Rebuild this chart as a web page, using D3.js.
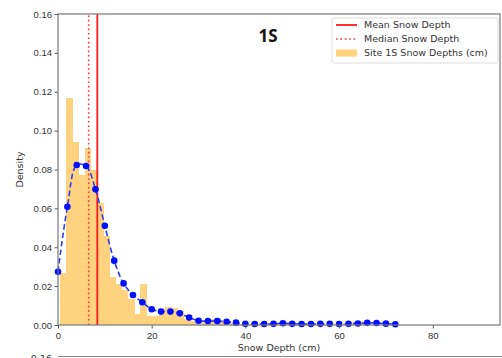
<!DOCTYPE html>
<html>
<head>
<meta charset="utf-8">
<script src="https://cdn.jsdelivr.net/npm/d3@7"></script>
<style>
  html, body { margin: 0; padding: 0; background: #fff; }
  svg { display: block; font-family: "DejaVu Sans", sans-serif; }
</style>
</head>
<body>
<div id="chart"></div>
<script>
// histogram bin edges (cm) and densities
const binEdges = [0.43, 1.75, 3.07, 4.39, 5.71, 7.03, 8.35, 9.67, 10.99, 12.31, 13.63,
  14.95, 16.27, 17.59, 18.91, 20.23, 21.55, 22.87, 24.19, 25.51, 26.83,
  28.15, 29.47, 30.79, 32.11, 33.43, 34.75, 36.07, 37.39, 38.71, 40.03,
  41.35, 42.67, 43.99, 45.31, 46.63, 47.95, 49.27, 50.59, 51.91, 53.23,
  54.55, 55.87, 57.19, 58.51, 59.83, 61.15, 62.47, 63.79, 65.11, 66.43];
const binDensity = [0.0266, 0.117, 0.094, 0.077, 0.091, 0.080, 0.063, 0.046, 0.0245, 0.021,
  0.018, 0.0135, 0.0055, 0.021, 0.0045, 0.0045, 0.008, 0.0092, 0.0085, 0.007,
  0.003, 0.002, 0.002, 0.0015, 0.003, 0.0035, 0.002, 0.001, 0.001, 0.0005,
  0.0005, 0.0005, 0, 0.0005, 0.0005, 0.001, 0.0015, 0.0005, 0, 0.0005,
  0.0005, 0.0005, 0, 0.0005, 0.0005, 0.0005, 0.0005, 0.0015, 0.002, 0.0015];

// fitted density curve (blue dashed with dots)
const curveDepth = [0, 2, 4, 6, 8, 10, 12, 14, 16, 18, 20, 22, 24, 26, 28, 30, 32, 34, 36,
  38, 40, 42, 44, 46, 48, 50, 52, 54, 56, 58, 60, 62, 64, 66, 68, 70, 72];
const curveDensity = [0.0274, 0.0608, 0.0823, 0.0818, 0.0698, 0.051, 0.0331, 0.0214, 0.0154,
  0.0117, 0.0081, 0.0069, 0.0069, 0.006, 0.0038, 0.0022, 0.002, 0.002, 0.0017,
  0.0012, 0.0006, 0.0005, 0.0005, 0.0006, 0.0009, 0.0006, 0.0005, 0.0005, 0.0006,
  0.0006, 0.0005, 0.0006, 0.0008, 0.0011, 0.001, 0.0007, 0.0004];

const meanDepth = 8.39;
const medianDepth = 6.55;

const xTicks = [0, 20, 40, 60, 80];
const yTicks = [0, 0.02, 0.04, 0.06, 0.08, 0.10, 0.12, 0.14, 0.16];
const legendLabels = ["Mean Snow Depth", "Median Snow Depth", "Site 1S Snow Depths (cm)"];

const width = 502, height = 358;
const marginTop = 14, marginRight = 2, marginBottom = 33, marginLeft = 58;

const x = d3.scaleLinear([0, 94.35], [marginLeft, width - marginRight]);
const y = d3.scaleLinear([0, 0.16], [height - marginBottom, marginTop]);

const svg = d3.select("#chart").append("svg")
    .attr("width", width)
    .attr("height", height)
    .attr("viewBox", [0, 0, width, height]);

// histogram
const bins = binDensity.map((d, i) => ({x0: binEdges[i], x1: binEdges[i + 1], v: d}));
svg.append("g")
    .attr("shape-rendering", "crispEdges")
  .selectAll("rect")
  .data(bins)
  .join("rect")
    .attr("x", d => x(d.x0))
    .attr("width", d => x(d.x1) - x(d.x0) + 0.3)
    .attr("y", d => y(d.v))
    .attr("height", d => y(0) - y(d.v))
    .attr("fill", "#ffd280");

// mean / median lines
svg.append("line")
    .attr("x1", x(meanDepth)).attr("x2", x(meanDepth))
    .attr("y1", y(0)).attr("y2", y(0.16))
    .attr("stroke", "#ff1a1a").attr("stroke-width", 1.8);
svg.append("line")
    .attr("x1", x(medianDepth)).attr("x2", x(medianDepth))
    .attr("y1", y(0)).attr("y2", y(0.16))
    .attr("stroke", "#ff3333").attr("stroke-width", 1.6)
    .attr("stroke-dasharray", "1.6,2.8");

// fitted curve
const pts = curveDepth.map((d, i) => [d, curveDensity[i]]);
const line = d3.line()
    .x(d => x(d[0]))
    .y(d => y(d[1]))
    .curve(d3.curveCatmullRom);
svg.append("path")
    .attr("d", line(pts))
    .attr("fill", "none")
    .attr("stroke", "#2f3cf0")
    .attr("stroke-width", 1.6)
    .attr("stroke-dasharray", "5.5,3");
svg.append("g")
  .selectAll("circle")
  .data(pts)
  .join("circle")
    .attr("cx", d => x(d[0]))
    .attr("cy", d => y(d[1]))
    .attr("r", 3.3)
    .attr("fill", "#0010ff");

// axes
const xAxis = d3.axisBottom(x).tickValues(xTicks).tickSize(3.5).tickFormat(d3.format("d"));
const yAxis = d3.axisLeft(y).tickValues(yTicks).tickSize(3.5).tickFormat(d3.format(".2f"));

svg.append("g")
    .attr("transform", `translate(0,${height - marginBottom})`)
    .call(xAxis)
    .call(g => g.select(".domain").remove())
    .call(g => g.selectAll(".tick line").attr("stroke", "#555"))
    .call(g => g.selectAll(".tick text").attr("fill", "#333").attr("font-size", 9.5).attr("dy", "0.8em"));

svg.append("g")
    .attr("transform", `translate(${marginLeft},0)`)
    .call(yAxis)
    .call(g => g.select(".domain").remove())
    .call(g => g.selectAll(".tick line").attr("stroke", "#555"))
    .call(g => g.selectAll(".tick text").attr("fill", "#333").attr("font-size", 9.5).attr("x", -6));

// frame
svg.append("rect")
    .attr("x", marginLeft).attr("y", marginTop)
    .attr("width", width - marginRight - marginLeft)
    .attr("height", height - marginBottom - marginTop)
    .attr("fill", "none")
    .attr("stroke", "#777")
    .attr("stroke-width", 1.2);

// axis labels
svg.append("text")
    .attr("x", (marginLeft + width - marginRight) / 2)
    .attr("y", 351)
    .attr("text-anchor", "middle")
    .attr("font-size", 9.5)
    .attr("fill", "#333")
    .text("Snow Depth (cm)");
svg.append("text")
    .attr("transform", `translate(23,${(marginTop + height - marginBottom) / 2}) rotate(-90)`)
    .attr("text-anchor", "middle")
    .attr("font-size", 9.5)
    .attr("fill", "#333")
    .text("Density");

// site title
svg.append("text")
    .attr("x", 268)
    .attr("y", 42)
    .attr("text-anchor", "middle")
    .attr("font-size", 17)
    .attr("font-weight", "bold")
    .attr("font-family", "'Open Sans', sans-serif")
    .attr("fill", "#111")
    .text("1S");

// legend
const lg = svg.append("g").attr("transform", "translate(332,18)");
lg.append("rect")
    .attr("width", 166).attr("height", 45)
    .attr("rx", 2)
    .attr("fill", "#fff").attr("fill-opacity", 0.85)
    .attr("stroke", "#ddd");
const rows = lg.selectAll("g.row")
  .data(legendLabels)
  .join("g")
    .attr("class", "row")
    .attr("transform", (d, i) => `translate(0,${7 + i * 14})`);
rows.filter((d, i) => i === 0).append("line")
    .attr("x1", 4).attr("x2", 25).attr("y1", 0).attr("y2", 0)
    .attr("stroke", "#ff1a1a").attr("stroke-width", 1.8);
rows.filter((d, i) => i === 1).append("line")
    .attr("x1", 4).attr("x2", 25).attr("y1", 0).attr("y2", 0)
    .attr("stroke", "#ff3333").attr("stroke-width", 1.6)
    .attr("stroke-dasharray", "1.6,2.8");
rows.filter((d, i) => i === 2).append("rect")
    .attr("x", 4).attr("y", -3.5).attr("width", 21).attr("height", 7)
    .attr("fill", "#ffd280");
rows.append("text")
    .attr("x", 32)
    .attr("dy", "0.35em")
    .attr("font-size", 9.5)
    .attr("fill", "#333")
    .text(d => d);

// top of the next subplot (cut off in the reference too)
svg.append("line")
    .attr("x1", marginLeft).attr("x2", width)
    .attr("y1", 356.5).attr("y2", 356.5)
    .attr("stroke", "#888").attr("stroke-width", 1.2);
svg.append("text")
    .attr("x", marginLeft - 6)
    .attr("y", 362)
    .attr("text-anchor", "end")
    .attr("font-size", 9.5)
    .attr("fill", "#333")
    .text("0.16");
</script>
</body>
</html>
